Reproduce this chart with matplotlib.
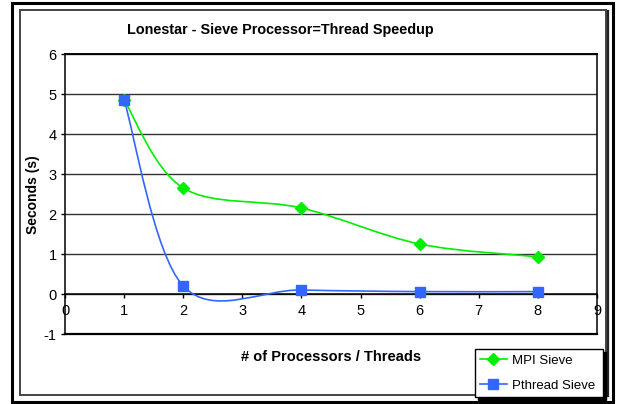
import numpy as np
import matplotlib.pyplot as plt
from matplotlib.path import Path
from matplotlib.patches import PathPatch, Rectangle
from matplotlib.lines import Line2D

plt.rcParams['font.family'] = ['Liberation Sans', 'DejaVu Sans']
plt.rcParams['axes.unicode_minus'] = False

# data
threads = [1, 2, 4, 6, 8]
mpi_sieve = [4.85, 2.65, 2.15, 1.25, 0.93]
pthread_sieve = [4.85, 0.2, 0.1, 0.06, 0.06]

title = 'Lonestar - Sieve Processor=Thread Speedup'
xlab = '# of Processors / Threads'
ylab = 'Seconds (s)'


def smooth_path(xs, ys):
    # Excel style smoothed line: cubic bezier through the points
    p = np.column_stack([xs, ys]).astype(float)
    n = len(p)
    verts = [p[0]]
    codes = [Path.MOVETO]
    for i in range(n - 1):
        p0 = p[i - 1] if i > 0 else p[i]
        p3 = p[i + 2] if i + 2 < n else p[i + 1]
        c1 = p[i] + (p[i + 1] - p0) / 6
        c2 = p[i + 1] - (p3 - p[i]) / 6
        verts += [c1, c2, p[i + 1]]
        codes += [Path.CURVE4] * 3
    return Path(verts, codes)


fig = plt.figure(figsize=(6.17, 4.04), dpi=100)
W, H = 617, 404

# outer and inner frames
fig.patches.append(Rectangle((12 / W, 2 / H), 601 / W, 399 / H, transform=fig.transFigure,
                             fill=False, ec='black', lw=2.2))
fig.patches.append(Rectangle((20 / W, 9 / H), 586 / W, 385 / H, transform=fig.transFigure,
                             fill=False, ec='#444444', lw=1.4))
fig.add_artist(Line2D([607.5 / W, 607.5 / W], [8 / H, 393 / H], transform=fig.transFigure,
                      color='#222222', lw=1.6))

ax = fig.add_axes([65 / W, 1 - 334 / H, 532 / W, 280 / H])
ax.set_xlim(0, 9)
ax.set_ylim(-1, 6)

ax.set_yticks(range(-1, 7))
ax.set_xticks(range(0, 10))
ax.grid(axis='y', color='#333333', lw=1.0)
ax.set_axisbelow(True)

for s in ax.spines.values():
    s.set_color('black')
    s.set_linewidth(1.1)
ax.spines['bottom'].set_position(('data', 0))
ax.axhline(-1, color='black', lw=1.6, clip_on=False)
ax.axhline(6, color='black', lw=1.1, clip_on=False)

ax.tick_params(axis='both', direction='out', length=3, width=1, labelsize=10.5)
ax.tick_params(axis='x', pad=4)
ax.tick_params(axis='y', pad=3)

# smoothed lines
ax.add_patch(PathPatch(smooth_path(threads, mpi_sieve), fill=False, ec='#00ee00', lw=1.2, zorder=3))
ax.plot(threads, mpi_sieve, ls='none', marker='D', ms=6, color='#00ee00', zorder=4)
ax.add_patch(PathPatch(smooth_path(threads, pthread_sieve), fill=False, ec='#3366ff', lw=1.2, zorder=3))
ax.plot(threads, pthread_sieve, ls='none', marker='s', ms=6.5, color='#3366ff', zorder=5)

fig.text(280 / W, 1 - 30 / H, title, ha='center', va='center', fontsize=10.4, fontweight='bold')
fig.text(331 / W, 1 - 357 / H, xlab, ha='center', va='center', fontsize=10.5, fontweight='bold')
fig.text(33 / W, 1 - 195 / H, ylab, ha='center', va='center', rotation=90, fontsize=10, fontweight='bold')

# legend with black drop shadow
h1 = Line2D([], [], color='#00ee00', marker='D', ms=6.5, lw=1.2)
h2 = Line2D([], [], color='#3366ff', marker='s', ms=7, lw=1.2)
leg = fig.legend([h1, h2], ['MPI Sieve', 'Pthread Sieve'], loc='lower left',
                 bbox_to_anchor=(475 / W, 1 - 397 / H, 128 / W, 49 / H), mode='expand',
                 fontsize=9.5, frameon=True, fancybox=False, shadow={'color': 'black', 'alpha': 1},
                 borderpad=0.4, handlelength=2.0, handletextpad=0.4, labelspacing=0.95,
                 borderaxespad=0)
leg.get_frame().set_edgecolor('black')
leg.get_frame().set_linewidth(1)

fig.savefig('out.png', dpi=100)
